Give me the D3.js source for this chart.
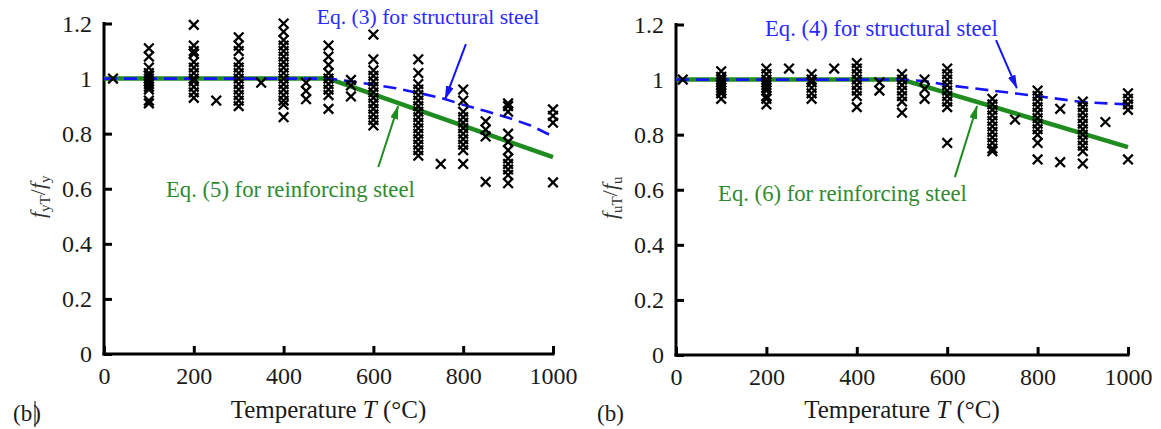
<!DOCTYPE html>
<html>
<head>
<meta charset="utf-8">
<script src="https://cdn.jsdelivr.net/npm/d3@7"></script>
<style>
  html, body { margin: 0; padding: 0; background: #fff; }
  svg { display: block; }
</style>
</head>
<body>
<svg id="chart" width="1161" height="429"></svg>
<script>
// ---- Test data: yield strength ratio f_yT / f_y ----
const yieldTemps = [20, 100, 200, 250, 300, 350, 400, 450, 500, 550, 600, 700, 750, 800, 850, 900, 1000];
const yieldRatios = [
  [1.0],
  [1.11, 1.08, 1.04, 1.02, 1.01, 1.0, 0.99, 0.98, 0.97, 0.96, 0.92, 0.91],
  [1.195, 1.12, 1.1, 1.09, 1.06, 1.04, 1.02, 1.0, 0.99, 0.97, 0.95, 0.93],
  [0.92],
  [1.15, 1.12, 1.1, 1.06, 1.04, 1.02, 1.0, 0.98, 0.96, 0.94, 0.92, 0.9],
  [0.985],
  [1.2, 1.17, 1.14, 1.12, 1.1, 1.08, 1.06, 1.04, 1.02, 1.0, 0.98, 0.96, 0.94, 0.92, 0.905, 0.86],
  [0.985, 0.955, 0.925],
  [1.12, 1.08, 1.05, 1.02, 1.0, 0.98, 0.96, 0.94, 0.89],
  [0.995, 0.975, 0.935],
  [1.16, 1.07, 1.03, 1.01, 0.99, 0.97, 0.95, 0.93, 0.91, 0.89, 0.87, 0.85, 0.83],
  [1.07, 1.02, 0.98, 0.96, 0.94, 0.92, 0.9, 0.88, 0.86, 0.84, 0.82, 0.8, 0.78, 0.76, 0.74, 0.72],
  [0.69],
  [0.96, 0.92, 0.88, 0.86, 0.84, 0.82, 0.8, 0.78, 0.76, 0.74, 0.69],
  [0.845, 0.815, 0.79, 0.625],
  [0.91, 0.9, 0.88, 0.8, 0.77, 0.74, 0.71, 0.69, 0.67, 0.65, 0.62],
  [0.888, 0.865, 0.84, 0.623]
];

// ---- Test data: ultimate strength ratio f_uT / f_u ----
const ultTemps = [15, 100, 200, 250, 300, 350, 400, 450, 500, 550, 600, 700, 750, 800, 850, 900, 950, 1000];
const ultRatios = [
  [1.0],
  [1.03, 1.01, 1.0, 0.99, 0.98, 0.97, 0.96, 0.95, 0.93],
  [1.04, 1.02, 1.0, 0.99, 0.98, 0.97, 0.96, 0.94, 0.93, 0.91],
  [1.04],
  [1.02, 1.0, 0.99, 0.97, 0.95, 0.93],
  [1.04],
  [1.06, 1.04, 1.02, 1.0, 0.98, 0.96, 0.94, 0.9],
  [0.99, 0.96],
  [1.02, 1.0, 0.98, 0.96, 0.94, 0.92, 0.88],
  [1.0, 0.966, 0.93],
  [1.04, 1.02, 1.0, 0.98, 0.96, 0.94, 0.92, 0.9, 0.77],
  [0.93, 0.91, 0.89, 0.87, 0.85, 0.83, 0.81, 0.79, 0.77, 0.75, 0.74],
  [0.855],
  [0.96, 0.94, 0.92, 0.9, 0.88, 0.86, 0.84, 0.82, 0.8, 0.77, 0.71],
  [0.894, 0.70],
  [0.92, 0.9, 0.88, 0.86, 0.84, 0.82, 0.8, 0.78, 0.76, 0.74, 0.695],
  [0.846],
  [0.95, 0.93, 0.91, 0.89, 0.71]
];

// ---- Design curves ----
const yieldStructT = [0, 500, 550, 600, 650, 700, 750, 800, 850, 900, 950, 1000];
const yieldStructR = [1, 1, 0.99, 0.978, 0.965, 0.948, 0.93, 0.905, 0.882, 0.858, 0.83, 0.79];
const yieldRebarT = [0, 500, 1000];
const yieldRebarR = [1, 1, 0.715];

const ultStructT = [0, 500, 550, 600, 650, 700, 800, 900, 1000];
const ultStructR = [1, 1, 0.995, 0.98, 0.97, 0.96, 0.94, 0.918, 0.91];
const ultRebarT = [0, 500, 1000];
const ultRebarR = [1, 1, 0.755];

// ---- Axes ----
const xTicks = [0, 200, 400, 600, 800, 1000];
const yTicks = [0, 0.2, 0.4, 0.6, 0.8, 1.0, 1.2];

const FONT = "Liberation Serif";
const BLUE = "#1414f5";
const GREEN = "#1f8c1f";
const BLUE_TEXT = "#2a2aff";
const GREEN_TEXT = "#2f8a2f";

const panels = [
  {
    left: 104, right: 553, top: 23.5, bottom: 354,
    temps: yieldTemps, ratios: yieldRatios,
    structT: yieldStructT, structR: yieldStructR,
    rebarT: yieldRebarT, rebarR: yieldRebarR,
    ySub1: "yT", ySub2: "y", yLabelX: 45,
    structLabel: "Eq. (3) for structural steel", structLabelPos: [474, 1.2], structSize: 21.6,
    rebarLabel: "Eq. (5) for reinforcing steel", rebarLabelPos: [138, 0.57],
    structArrow: [[806, 1.125], [760, 0.926]],
    rebarArrow: [[611, 0.679], [655, 0.9]],
    tag: "(b", tagCursor: true, tagX: 13
  },
  {
    left: 676, right: 1128, top: 24.5, bottom: 355,
    temps: ultTemps, ratios: ultRatios,
    structT: ultStructT, structR: ultStructR,
    rebarT: ultRebarT, rebarR: ultRebarR,
    ySub1: "uT", ySub2: "u", yLabelX: 617,
    structLabel: "Eq. (4) for structural steel", structLabelPos: [197, 1.16], structSize: 22.6,
    rebarLabel: "Eq. (6) for reinforcing steel", rebarLabelPos: [93, 0.56],
    structArrow: [[708, 1.143], [754, 0.969]],
    rebarArrow: [[617, 0.646], [666, 0.904]],
    tag: "(b", tagCursor: false, tagX: 597
  }
];

const svg = d3.select("#chart");

const defs = svg.append("defs");
[["arrowBlue", BLUE], ["arrowGreen", GREEN]].forEach(([id, col]) => {
  defs.append("marker")
    .attr("id", id)
    .attr("viewBox", "0 0 14 8")
    .attr("refX", 13).attr("refY", 4)
    .attr("markerWidth", 14).attr("markerHeight", 8)
    .attr("markerUnits", "userSpaceOnUse")
    .attr("orient", "auto")
    .append("path")
    .attr("d", "M0,0 L14,4 L0,8 Z")
    .attr("fill", col);
});

const xSymbol = d3.symbol().type(d3.symbolX).size(62);

panels.forEach(p => {
  const x = d3.scaleLinear().domain([0, 1000]).range([p.left, p.right]);
  const y = d3.scaleLinear().domain([0, 1.2]).range([p.bottom, p.top]);
  const g = svg.append("g");

  // axes with inward ticks
  const xAxis = d3.axisBottom(x).tickValues(xTicks).tickSize(-8).tickPadding(13)
    .tickFormat(d3.format("d"));
  const yAxis = d3.axisLeft(y).tickValues(yTicks).tickSize(-8).tickPadding(12)
    .tickFormat(d => d === 0 ? "0" : d === 1 ? "1" : d3.format(".1f")(d));

  const gx = g.append("g").attr("transform", `translate(0,${p.bottom})`).call(xAxis);
  const gy = g.append("g").attr("transform", `translate(${p.left},0)`).call(yAxis);
  [gx, gy].forEach(ax => {
    ax.attr("font-family", FONT).attr("font-size", 24);
    ax.select(".domain").attr("stroke", "#000").attr("stroke-width", 3).attr("stroke-linecap", "square");
    ax.selectAll(".tick line").attr("stroke", "#000").attr("stroke-width", 3);
    ax.selectAll(".tick text").attr("fill", "#1a1a1a").attr("font-family", FONT).attr("font-size", 24);
  });
  gx.select(".domain").attr("d", `M${p.left},0H${p.right}`);
  gy.select(".domain").attr("d", `M0,${p.top}V${p.bottom}`);

  // design curves
  const line = d3.line().x(d => x(d[0])).y(d => y(d[1]));
  g.append("path")
    .datum(p.rebarT.map((t, i) => [t, p.rebarR[i]]))
    .attr("d", line).attr("fill", "none")
    .attr("stroke", GREEN).attr("stroke-width", 4.5).attr("stroke-linejoin", "round");
  g.append("path")
    .datum(p.structT.map((t, i) => [t, p.structR[i]]))
    .attr("d", line).attr("fill", "none")
    .attr("stroke", BLUE).attr("stroke-width", 2.6).attr("stroke-dasharray", "13,7");

  // test results
  const pts = [];
  p.temps.forEach((t, i) => p.ratios[i].forEach(r => pts.push([t, r])));
  g.append("g").selectAll("path").data(pts).join("path")
    .attr("d", xSymbol)
    .attr("transform", d => `translate(${x(d[0])},${y(d[1])})`)
    .attr("fill", "none").attr("stroke", "#000").attr("stroke-width", 2.3);

  // annotations
  g.append("text")
    .attr("x", x(p.structLabelPos[0])).attr("y", y(p.structLabelPos[1]))
    .attr("fill", BLUE_TEXT).attr("font-family", FONT).attr("font-size", p.structSize)
    .text(p.structLabel);
  g.append("text")
    .attr("x", x(p.rebarLabelPos[0])).attr("y", y(p.rebarLabelPos[1]))
    .attr("fill", GREEN_TEXT).attr("font-family", FONT).attr("font-size", 22.7)
    .text(p.rebarLabel);

  g.append("line")
    .attr("x1", x(p.structArrow[0][0])).attr("y1", y(p.structArrow[0][1]))
    .attr("x2", x(p.structArrow[1][0])).attr("y2", y(p.structArrow[1][1]))
    .attr("stroke", BLUE).attr("stroke-width", 2).attr("marker-end", "url(#arrowBlue)");
  g.append("line")
    .attr("x1", x(p.rebarArrow[0][0])).attr("y1", y(p.rebarArrow[0][1]))
    .attr("x2", x(p.rebarArrow[1][0])).attr("y2", y(p.rebarArrow[1][1]))
    .attr("stroke", GREEN).attr("stroke-width", 2).attr("marker-end", "url(#arrowGreen)");

  // axis titles
  const xt = g.append("text")
    .attr("x", (p.left + p.right) / 2).attr("y", 418)
    .attr("text-anchor", "middle").attr("fill", "#1a1a1a")
    .attr("font-family", FONT).attr("font-size", 25);
  xt.append("tspan").text("Temperature ");
  xt.append("tspan").attr("font-style", "italic").text("T");
  xt.append("tspan").text(" (°C)");

  const yt = g.append("text")
    .attr("transform", `translate(${p.yLabelX},${(p.top + p.bottom) / 2 + 8}) rotate(-90)`)
    .attr("text-anchor", "middle").attr("fill", "#333")
    .attr("font-family", FONT).attr("font-size", 22);
  yt.append("tspan").attr("font-style", "italic").text("f");
  yt.append("tspan").attr("dy", 5).attr("font-size", 15).text(p.ySub1);
  yt.append("tspan").attr("dy", -5).text("/");
  yt.append("tspan").attr("font-style", "italic").text("f");
  yt.append("tspan").attr("dy", 5).attr("font-size", 15).text(p.ySub2);

  // panel tag
  const tag = g.append("text").attr("x", p.tagX).attr("y", 421)
    .attr("fill", "#1a1a1a").attr("font-family", FONT).attr("font-size", 23);
  tag.append("tspan").text(p.tag);
  if (p.tagCursor) {
    tag.append("tspan").attr("dx", 1).text(")");
    g.append("line").attr("x1", p.tagX + 22).attr("x2", p.tagX + 22)
      .attr("y1", 401).attr("y2", 427).attr("stroke", "#000").attr("stroke-width", 1);
  } else {
    tag.append("tspan").text(")");
  }
});
</script>
</body>
</html>
